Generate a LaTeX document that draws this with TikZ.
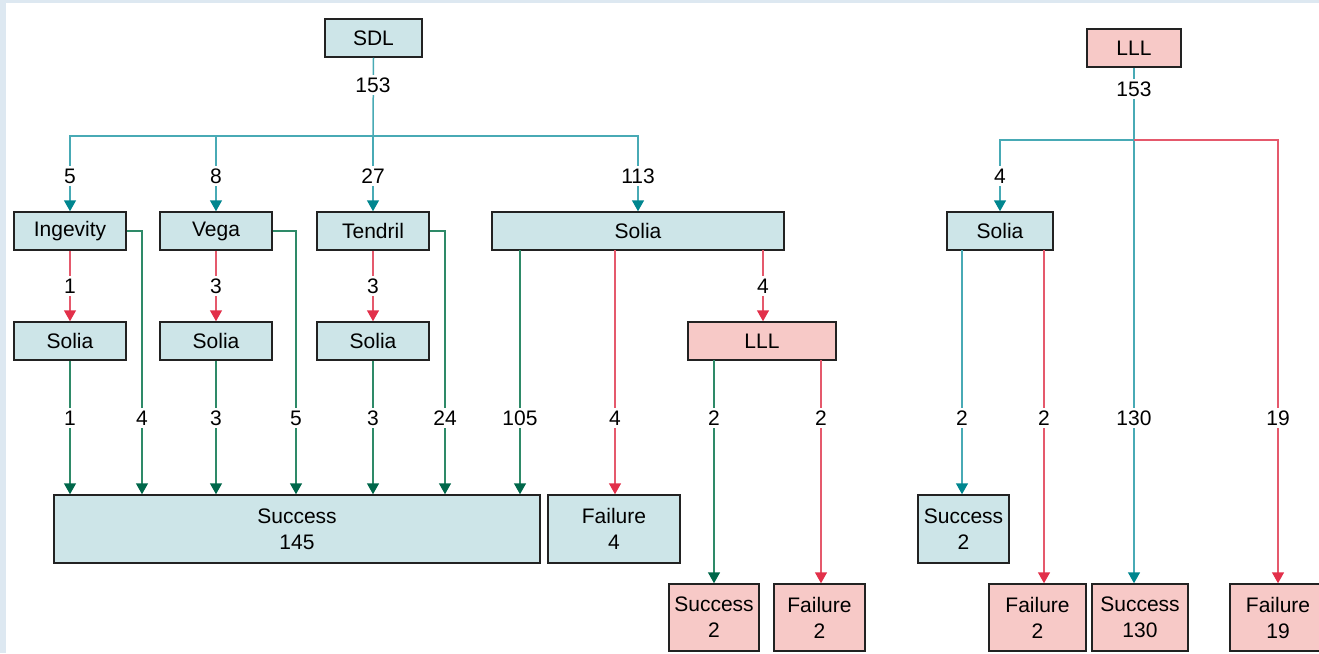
\documentclass[tikz,border=0pt]{standalone}
\usepackage{fontspec}
\setmainfont{Liberation Sans}
\usetikzlibrary{arrows.meta}
\definecolor{boxblue}{HTML}{CDE5E8}
\definecolor{boxpink}{HTML}{F7C9C7}
\definecolor{boxline}{HTML}{222222}
\definecolor{tealline}{HTML}{48AAB5}
\definecolor{tealtip}{HTML}{00868F}
\definecolor{greenline}{HTML}{2E8A68}
\definecolor{greentip}{HTML}{00674A}
\definecolor{redline}{HTML}{E5596C}
\definecolor{redtip}{HTML}{E2304A}
\definecolor{framebg}{HTML}{DDE8F1}
\tikzset{
  bx/.style={draw=boxline, line width=1.5pt, inner sep=0pt, align=center,
    font=\fontsize{21}{26}\selectfont},
  bluebox/.style={bx, fill=boxblue},
  pinkbox/.style={bx, fill=boxpink},
  lab/.style={fill=white, inner sep=2.5pt, font=\fontsize{21}{26}\selectfont},
  tl/.style={draw=tealline, line width=1.5pt},
  gl/.style={draw=greenline, line width=1.5pt},
  rl/.style={draw=redline, line width=1.5pt},
  tarr/.style={tl, -{Triangle[width=12pt,length=11pt,color=tealtip]}},
  garr/.style={gl, -{Triangle[width=12pt,length=11pt,color=greentip]}},
  rarr/.style={rl, -{Triangle[width=12pt,length=11pt,color=redtip]}},
}
\begin{document}
\begin{tikzpicture}[x=1pt,y=-1pt]
\useasboundingbox (0,0) rectangle (1319,653);
\fill[framebg] (0,0) rectangle (1319,653);
\fill[white] (6,3) rectangle (1319,653);

% boxes
\node[bluebox, minimum width=97pt, minimum height=38pt] (sdl) at (373.5,38) {SDL};
\node[pinkbox, minimum width=94pt, minimum height=38pt] (lllR) at (1134,48) {LLL};

\node[bluebox, minimum width=112pt, minimum height=38pt] (ing) at (70,231) {Ingevity};
\node[bluebox, minimum width=112pt, minimum height=38pt] (vega) at (216,231) {Vega};
\node[bluebox, minimum width=112pt, minimum height=38pt] (tend) at (373,231) {Tendril};
\node[bluebox, minimum width=292pt, minimum height=38pt] (soliaB) at (638,231) {Solia};
\node[bluebox, minimum width=106pt, minimum height=38pt] (soliaR) at (1000,231) {Solia};

\node[bluebox, minimum width=112pt, minimum height=38pt] (sol1) at (70,341) {Solia};
\node[bluebox, minimum width=112pt, minimum height=38pt] (sol2) at (216,341) {Solia};
\node[bluebox, minimum width=112pt, minimum height=38pt] (sol3) at (373,341) {Solia};
\node[pinkbox, minimum width=148pt, minimum height=38pt] (lllM) at (762,341) {LLL};

\node[bluebox, minimum width=486pt, minimum height=68pt] (succ) at (297,529) {Success\\145};
\node[bluebox, minimum width=132pt, minimum height=68pt] (fail) at (614,529) {Failure\\4};
\node[bluebox, minimum width=91pt, minimum height=68pt] (succR) at (963.5,529) {Success\\2};

\node[pinkbox, minimum width=90pt, minimum height=67pt] (succP) at (714,617.5) {Success\\2};
\node[pinkbox, minimum width=91pt, minimum height=67pt] (failP) at (819.5,617.5) {Failure\\2};
\node[pinkbox, minimum width=97pt, minimum height=67pt] (failR2) at (1037.5,617.5) {Failure\\2};
\node[pinkbox, minimum width=96pt, minimum height=67pt] (succ130) at (1140,617.5) {Success\\130};
\node[pinkbox, minimum width=96pt, minimum height=67pt] (fail19) at (1278,617.5) {Failure\\19};

% junction / start coordinates
\coordinate (j1) at (373,136);
\coordinate (jr) at (1134,140);
\coordinate (x4) at (142,231);
\coordinate (x5) at (296,231);
\coordinate (x24) at (445,231);
\coordinate (sb1) at (520,250);
\coordinate (sb2) at (615,250);
\coordinate (sb3) at (763,250);
\coordinate (lm1) at (714,360);
\coordinate (lm2) at (821,360);
\coordinate (sr1) at (962,250);
\coordinate (sr2) at (1044,250);

% SDL tree
\draw[tl] (sdl.south) -- (j1);
\draw[tarr] (j1) -| (ing.north);
\draw[tarr] (j1) -| (vega.north);
\draw[tarr] (j1) -- (tend.north);
\draw[tarr] (j1) -| (soliaB.north);

\draw[rarr] (ing.south) -- (sol1.north);
\draw[rarr] (vega.south) -- (sol2.north);
\draw[rarr] (tend.south) -- (sol3.north);

\draw[garr] (sol1.south) -- (sol1.south |- succ.north);
\draw[garr] (sol2.south) -- (sol2.south |- succ.north);
\draw[garr] (sol3.south) -- (sol3.south |- succ.north);
\draw[garr] (ing.east) -- (x4) -- (x4 |- succ.north);
\draw[garr] (vega.east) -- (x5) -- (x5 |- succ.north);
\draw[garr] (tend.east) -- (x24) -- (x24 |- succ.north);

\draw[garr] (sb1) -- (sb1 |- succ.north);
\draw[rarr] (sb2) -- (sb2 |- fail.north);
\draw[rarr] (sb3) -- (sb3 |- lllM.north);

\draw[garr] (lm1) -- (lm1 |- succP.north);
\draw[rarr] (lm2) -- (lm2 |- failP.north);

% LLL tree
\draw[tl] (lllR.south) -- (jr);
\draw[tarr] (jr) -| (soliaR.north);
\draw[tarr] (jr) -- (jr |- succ130.north);
\draw[rarr] (jr) -| (fail19.north);
\draw[tarr] (sr1) -- (sr1 |- succR.north);
\draw[rarr] (sr2) -- (sr2 |- failR2.north);

% labels
\node[lab] at (373,85) {153};
\node[lab] at (1134,89) {153};
\node[lab] at (70,176) {5};
\node[lab] at (216,176) {8};
\node[lab] at (373,176) {27};
\node[lab] at (638,176) {113};
\node[lab] at (1000,176) {4};
\node[lab] at (70,286) {1};
\node[lab] at (216,286) {3};
\node[lab] at (373,286) {3};
\node[lab] at (763,286) {4};
\foreach \xx/\tt in {70/1,142/4,216/3,296/5,373/3,445/24,520/105,615/4,714/2,821/2,962/2,1044/2,1134/130,1278/19}
  \node[lab] at (\xx,418) {\tt};
\end{tikzpicture}
\end{document}
